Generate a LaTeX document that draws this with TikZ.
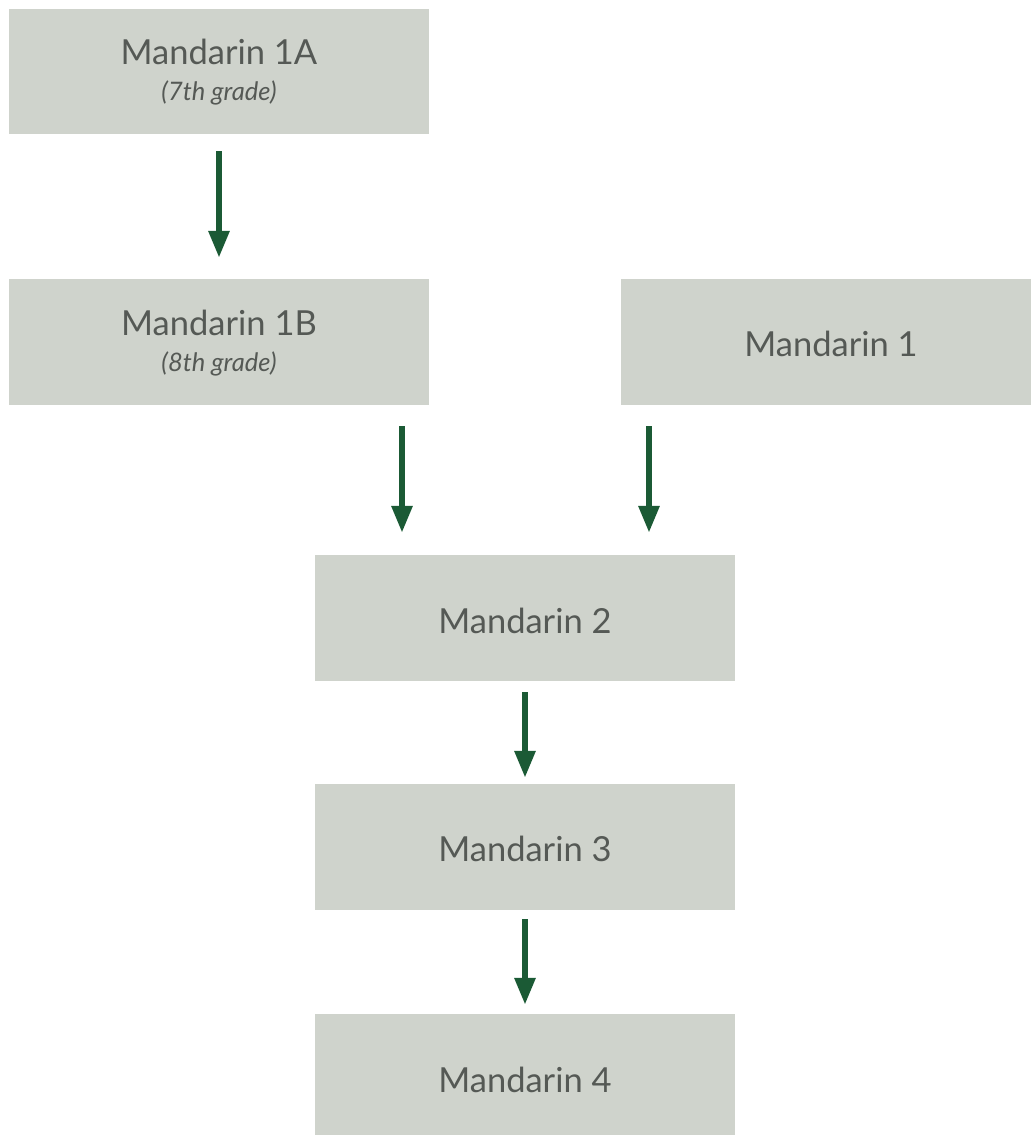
\documentclass[tikz,border=0pt]{standalone}
\usepackage{fontspec}
\setmainfont{Lato}
\usetikzlibrary{arrows.meta}
\definecolor{boxfill}{HTML}{CFD3CC}
\definecolor{txt}{HTML}{555955}
\definecolor{arr}{HTML}{1B5A35}
\tikzset{
  box/.style={fill=boxfill, draw=none, inner sep=0pt, minimum width=420pt, minimum height=126pt},
  ttl/.style={text=txt, font=\fontsize{34.5}{38}\selectfont, inner sep=0pt},
  sub/.style={text=txt, font=\fontsize{25.5}{28}\selectfont\itshape, inner sep=0pt},
  flow/.style={draw=arr, line width=6pt, -{Triangle[width=20pt,length=27pt]}}
}
\begin{document}
\begin{tikzpicture}[x=1pt,y=-1pt]
\useasboundingbox (0,0) rectangle (1031,1135);
\node[box, minimum height=125pt] (a) at (219,71.5) {};
\node[ttl] (at) at (219,52) {Mandarin 1A};
\node[sub] (as) at (219,93) {(7th grade)};
\node[box] (b) at (219,342) {};
\node[ttl] (bt) at (219,323) {Mandarin 1B};
\node[sub] (bs) at (219,364) {(8th grade)};
\node[box, minimum width=410pt] (c) at (826,342) {};
\node[ttl] (ct) at (831,344) {Mandarin 1};
\node[box] (m2) at (525,618) {};
\node[ttl] (m2t) at (525,621) {Mandarin 2};
\node[box] (m3) at (525,847) {};
\node[ttl] (m3t) at (525,849) {Mandarin 3};
\node[box, minimum height=121pt] (m4) at (525,1074.5) {};
\node[ttl] (m4t) at (525,1080) {Mandarin 4};
\coordinate (xl) at (402,0);
\coordinate (xr) at (649,0);
\draw[flow, shorten <=17pt, shorten >=21pt] (a.south) -- (b.north);
\draw[flow, shorten <=21pt, shorten >=22pt] (b.south -| xl) -- (m2.north -| xl);
\draw[flow, shorten <=21pt, shorten >=22pt] (c.south -| xr) -- (m2.north -| xr);
\draw[flow, shorten <=11pt, shorten >=6pt] (m2.south) -- (m3.north);
\draw[flow, shorten <=9pt, shorten >=9pt] (m3.south) -- (m4.north);
\end{tikzpicture}
\end{document}
